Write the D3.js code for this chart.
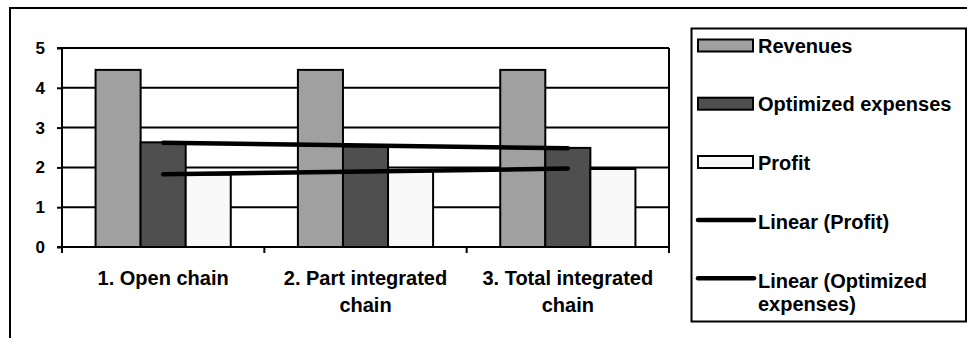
<!DOCTYPE html>
<html>
<head>
<meta charset="utf-8">
<script src="https://cdn.jsdelivr.net/npm/d3@7"></script>
<style>
  html, body { margin: 0; padding: 0; background: #fff; }
  svg { display: block; font-family: "Liberation Sans", Arial, sans-serif; font-weight: bold; }
</style>
</head>
<body>
<svg id="chart" width="967" height="338"></svg>
<script>
// Chain configurations and their figures
const categories = ["1. Open chain", "2. Part integrated chain", "3. Total integrated chain"];
const categoryLines = [["1. Open chain"], ["2. Part integrated", "chain"], ["3. Total integrated", "chain"]];
const revenues = [4.45, 4.45, 4.45];
const optimizedExpenses = [2.63, 2.53, 2.49];
const profit = [1.82, 1.92, 1.96];
const yTicks = [0, 1, 2, 3, 4, 5];

const seriesNames = ["Revenues", "Optimized expenses", "Profit"];
const seriesFill = ["#a0a0a0", "#4f4f4f", "#f9f9f9"];
const seriesValues = [revenues, optimizedExpenses, profit];

const svg = d3.select("#chart");
const SW = 2;

// outer chart frame
svg.append("rect")
  .attr("x", 10).attr("y", 8)
  .attr("width", 1000).attr("height", 400)
  .attr("fill", "#fff").attr("stroke", "#000").attr("stroke-width", SW);

const plot = { left: 62, right: 669, top: 48, bottom: 247 };

const x = d3.scaleBand().domain(categories).range([plot.left, plot.right]).paddingInner(0).paddingOuter(0);
const xInner = d3.scaleBand().domain(d3.range(seriesNames.length))
  .range([0, x.bandwidth()]).paddingInner(0).paddingOuter(0.745);
const y = d3.scaleLinear().domain([0, 5]).range([plot.bottom, plot.top]);

const g = svg.append("g");

// horizontal gridlines
g.selectAll("line.grid").data(yTicks.filter(d => d > 0)).join("line")
  .attr("class", "grid")
  .attr("x1", plot.left).attr("x2", plot.right)
  .attr("y1", d => y(d)).attr("y2", d => y(d))
  .attr("stroke", "#000").attr("stroke-width", SW);

// right border of plot area
g.append("line")
  .attr("x1", plot.right).attr("x2", plot.right)
  .attr("y1", plot.top).attr("y2", plot.bottom)
  .attr("stroke", "#000").attr("stroke-width", SW);

// bars
const groups = g.selectAll("g.cat").data(categories).join("g")
  .attr("class", "cat")
  .attr("transform", d => `translate(${x(d)},0)`);

groups.each(function(cat, ci) {
  d3.select(this).selectAll("rect").data(seriesValues.map((vals, si) => ({ si, v: vals[ci] })))
    .join("rect")
    .attr("x", d => xInner(d.si))
    .attr("width", xInner.bandwidth())
    .attr("y", d => y(d.v))
    .attr("height", d => y(0) - y(d.v))
    .attr("fill", d => seriesFill[d.si])
    .attr("stroke", "#000").attr("stroke-width", SW);
});

// least-squares trendline over category positions 1..n
function linearFit(vals) {
  const xs = vals.map((_, i) => i + 1);
  const mx = d3.mean(xs), my = d3.mean(vals);
  const slope = d3.sum(xs, (xi, i) => (xi - mx) * (vals[i] - my)) / d3.sum(xs, xi => (xi - mx) ** 2);
  const icpt = my - slope * mx;
  return xs.map(xi => icpt + slope * xi);
}

const trendLine = d3.line()
  .x((d, i) => x(categories[i]) + x.bandwidth() / 2)
  .y(d => y(d));

[linearFit(profit), linearFit(optimizedExpenses)].forEach(fit => {
  g.append("path")
    .datum(fit)
    .attr("d", trendLine)
    .attr("fill", "none")
    .attr("stroke", "#000")
    .attr("stroke-width", 4.5)
    .attr("stroke-linecap", "round");
});

// y axis
const yAxis = d3.axisLeft(y).tickValues(yTicks).tickSize(5).tickPadding(12).tickFormat(d3.format("d"));
const ya = svg.append("g").attr("transform", `translate(${plot.left},0)`).call(yAxis);
ya.select(".domain").attr("stroke", "#000").attr("stroke-width", SW).attr("d", `M-5,${plot.top}H0V${plot.bottom}H-5`);
ya.selectAll(".tick line").attr("stroke", "#000").attr("stroke-width", SW);
ya.selectAll(".tick text").attr("font-size", 17).attr("font-weight", "bold").attr("fill", "#000")
  .attr("font-family", "'Liberation Sans', Arial, sans-serif");

// x axis baseline with category boundary ticks
const xa = svg.append("g");
xa.append("line")
  .attr("x1", plot.left).attr("x2", plot.right)
  .attr("y1", plot.bottom).attr("y2", plot.bottom)
  .attr("stroke", "#000").attr("stroke-width", SW);
const boundaries = categories.map(c => x(c)).concat([x(categories[categories.length - 1]) + x.bandwidth()]);
xa.selectAll("line.bt").data(boundaries).join("line")
  .attr("class", "bt")
  .attr("x1", d => d).attr("x2", d => d)
  .attr("y1", plot.bottom).attr("y2", plot.bottom + 6)
  .attr("stroke", "#000").attr("stroke-width", SW);

// category labels
categories.forEach((c, i) => {
  const cx = x(c) + x.bandwidth() / 2;
  const t = xa.append("text")
    .attr("x", cx)
    .attr("y", 285)
    .attr("text-anchor", "middle")
    .attr("font-size", 20)
    .attr("fill", "#000");
  categoryLines[i].forEach((ln, li) => {
    t.append("tspan").attr("x", cx).attr("dy", li === 0 ? 0 : 26.5).text(ln);
  });
});

// legend
const legend = svg.append("g");
legend.append("rect")
  .attr("x", 691.5).attr("y", 28.5).attr("width", 274.5).attr("height", 293)
  .attr("fill", "#fff").attr("stroke", "#000").attr("stroke-width", SW);

const legendItems = [
  { type: "bar", fill: seriesFill[0], lines: [seriesNames[0]], cy: 45.5, base: 52.5 },
  { type: "bar", fill: seriesFill[1], lines: [seriesNames[1]], cy: 103.7, base: 111 },
  { type: "bar", fill: seriesFill[2], lines: [seriesNames[2]], cy: 162, base: 169.5 },
  { type: "line", lines: ["Linear (Profit)"], cy: 220, base: 229 },
  { type: "line", lines: ["Linear (Optimized", "expenses)"], cy: 278.3, base: 288 }
];

legendItems.forEach(it => {
  if (it.type === "bar") {
    legend.append("rect")
      .attr("x", 698).attr("y", it.cy - 6).attr("width", 55).attr("height", 12)
      .attr("fill", it.fill).attr("stroke", "#000").attr("stroke-width", SW);
  } else {
    legend.append("line")
      .attr("x1", 698).attr("x2", 754).attr("y1", it.cy).attr("y2", it.cy)
      .attr("stroke", "#000").attr("stroke-width", 4.5).attr("stroke-linecap", "round");
  }
  const t = legend.append("text")
    .attr("x", 758).attr("y", it.base)
    .attr("font-size", 20).attr("fill", "#000");
  it.lines.forEach((ln, li) => {
    t.append("tspan").attr("x", 758).attr("dy", li === 0 ? 0 : 23).text(ln);
  });
});
</script>
</body>
</html>
